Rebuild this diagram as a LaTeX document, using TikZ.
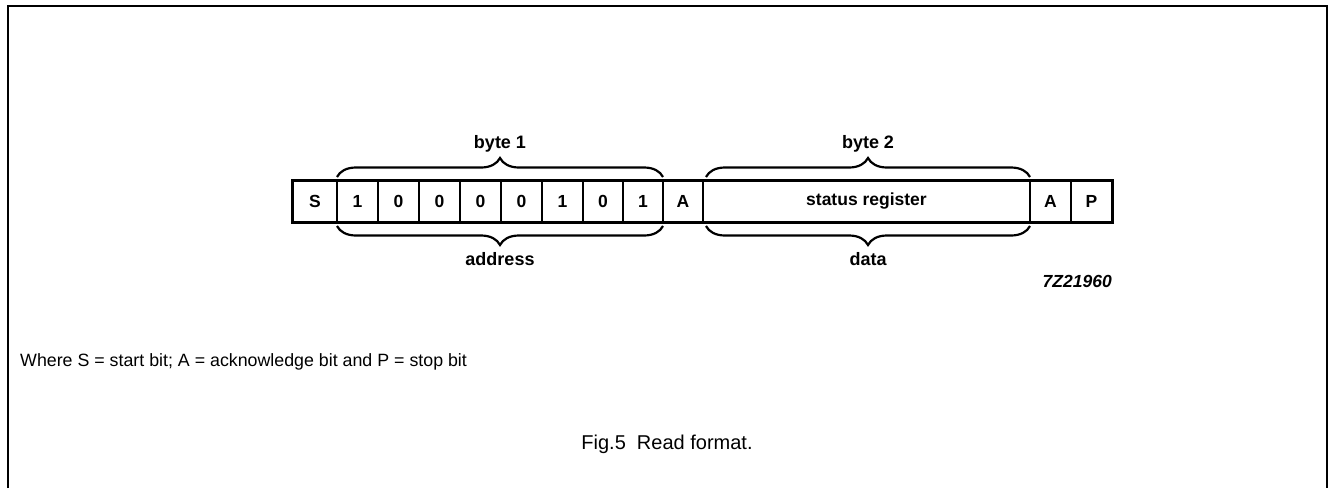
\documentclass[tikz,border=0pt]{standalone}
\usepackage{fontspec}
\setmainfont{Liberation Sans}
\usetikzlibrary{decorations.pathreplacing}
\begin{document}
\begin{tikzpicture}[x=1pt,y=-1pt,
  cell/.style={draw, line width=1.6pt, minimum height=40pt, inner sep=0pt, anchor=center, font=\fontsize{17.5}{19}\selectfont\bfseries},
  lbl/.style={font=\fontsize{18}{20}\selectfont\bfseries, inner sep=0pt},
  bracepath/.style={line width=2.2pt, decorate, decoration={brace, amplitude=19pt}},
]
\useasboundingbox (0,0) rectangle (1329,488);
\fill[white] (0,0) rectangle (1329,488);
% frame
\draw[line width=2pt] (7.5,488) -- (7.5,6) -- (1327,6) -- (1327,488);
% cells
\node[cell, minimum width=44pt] (cS) at (315,201.5) {S};
\node[cell, minimum width=41pt] (c1) at (357.5,201.5) {1};
\node[cell, minimum width=41pt] (c2) at (398.5,201.5) {0};
\node[cell, minimum width=41pt] (c3) at (439.5,201.5) {0};
\node[cell, minimum width=41pt] (c4) at (480.5,201.5) {0};
\node[cell, minimum width=41pt] (c5) at (521.5,201.5) {0};
\node[cell, minimum width=41pt] (c6) at (562.5,201.5) {1};
\node[cell, minimum width=40pt] (c7) at (603,201.5) {0};
\node[cell, minimum width=40pt] (c8) at (643,201.5) {1};
\node[cell, minimum width=40pt] (cA1) at (683,201.5) {A};
\node[cell, minimum width=327pt] (cSR) at (866.5,201.5) {status register};
\node[cell, minimum width=41pt] (cA2) at (1050.5,201.5) {A};
\node[cell, minimum width=41pt] (cP) at (1091.5,201.5) {P};
% outer thick border
\draw[line width=2.6pt] (cS.north west) rectangle (cP.south east);
% brace anchors
\coordinate (b1l) at (337,177);
\coordinate (b1r) at (663,177);
\coordinate (a1l) at (337,226);
\coordinate (a1r) at (663,226);
\coordinate (b2l) at (706,177);
\coordinate (b2r) at (1030,177);
\coordinate (a2l) at (706,226);
\coordinate (a2r) at (1030,226);
\draw[bracepath] (b1l) -- (b1r);
\draw[bracepath] (a1r) -- (a1l);
\draw[bracepath] (b2l) -- (b2r);
\draw[bracepath] (a2r) -- (a2l);
% labels
\node[lbl] (tb1) at (500,144) {byte 1};
\node[lbl] (tad) at (500,259) {address};
\node[lbl] (tb2) at (868,144) {byte 2};
\node[lbl] (tda) at (868,259) {data};
\node[lbl, anchor=east, font=\fontsize{17.5}{19}\selectfont\bfseries\itshape] (tid) at (1112,281) {7Z21960};
\node[anchor=west, inner sep=0pt, font=\fontsize{17.8}{20}\selectfont] (foot) at (20,362) {Where S = start bit; A = acknowledge bit and P = stop bit};
\node[inner sep=0pt, font=\fontsize{20}{23}\selectfont] (cap) at (667,444) {Fig.5\ \ Read format.};
\end{tikzpicture}
\end{document}
